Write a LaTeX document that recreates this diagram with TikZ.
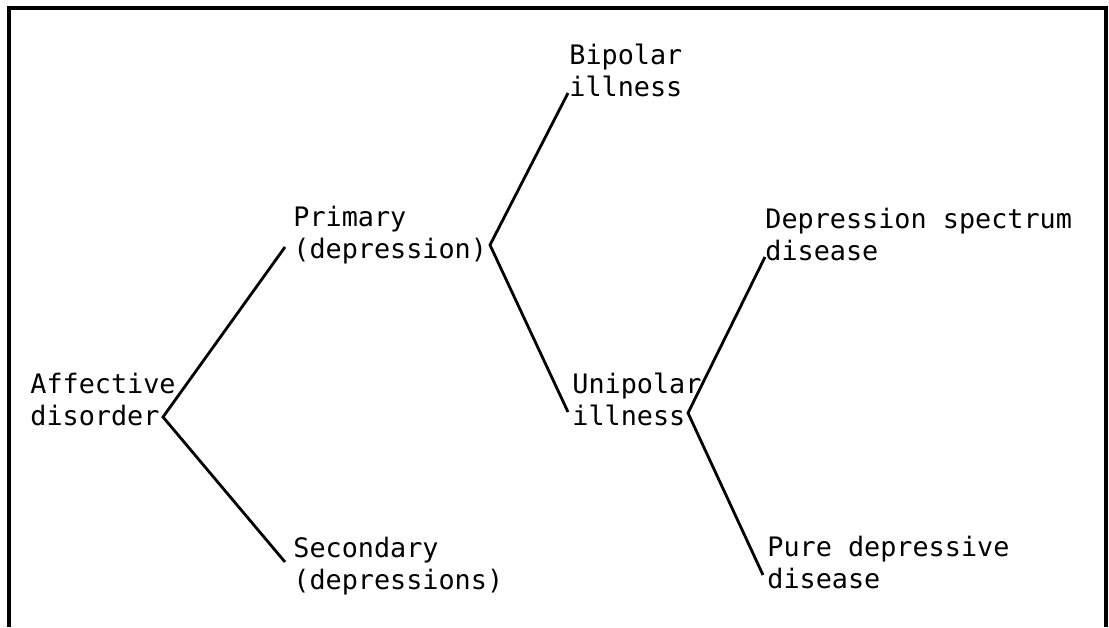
\documentclass[tikz,border=0pt]{standalone}
\usepackage{fontspec}
\setmonofont{DejaVu Sans Mono}
\usepackage{tikz}
\tikzset{
    term/.style={inner sep=0pt, align=left, anchor=base west, font=\ttfamily\fontsize{13.4}{16}\selectfont},
    branch/.style={draw, line width=1.4pt},
    frame/.style={draw, line width=1.8pt},
}

\begin{document}
\begin{tikzpicture}[x=0.5pt, y=-0.5pt]
    \useasboundingbox (0,0) rectangle (1109,627);
    \draw[frame] (9,627) -- (9,8) -- (1106,8) -- (1106,627);
    \node[term] (aff)  at (30,425)  {Affective\\disorder};
    \node[term] (prim) at (293,258) {Primary\\(depression)};
    \node[term] (sec)  at (293,589) {Secondary\\(depressions)};
    \node[term] (bip)  at (569,96)  {Bipolar\\illness};
    \node[term] (uni)  at (572,425) {Unipolar\\illness};
    \node[term] (dsd)  at (765,260) {Depression spectrum\\disease};
    \node[term] (pdd)  at (767,588) {Pure depressive\\disease};
    % branches
    \draw[branch] ([shift={(-8,-11)}]prim.base west) -- ([shift={(133,-8)}]aff.base west) -- ([shift={(-8,-27)}]sec.base west);
    \draw[branch] ([shift={(-1,-3)}]bip.base west) -- ([shift={(197,-13)}]prim.base west) -- ([shift={(-4,-13)}]uni.base west);
    \draw[branch] ([shift={(0,-3)}]dsd.base west) -- ([shift={(116,-12)}]uni.base west) -- ([shift={(-4,-13)}]pdd.base west);
\end{tikzpicture}
\end{document}
